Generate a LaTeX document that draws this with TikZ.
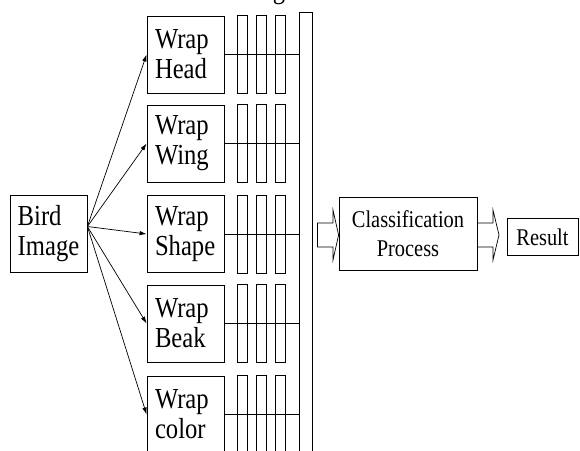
\documentclass[tikz,border=0pt]{standalone}
\usepackage{fontspec}
\setmainfont{Liberation Serif}[FakeStretch=0.85]
\usetikzlibrary{arrows.meta,calc}
\begin{document}
\begin{tikzpicture}[x=1pt,y=-1pt,
  box/.style={draw,line width=0.8pt,minimum width=77pt,minimum height=77pt,inner sep=0pt},
  wrapbox/.style={box,text width=61pt,align=left,font=\fontsize{29}{30}\selectfont},
  smallbox/.style={draw,line width=0.8pt,inner sep=0pt,align=center,font=\fontsize{24}{29}\selectfont},
  bar/.style={draw,line width=0.7pt},
  link/.style={line width=0.7pt},
  feed/.style={line width=0.7pt,-{Latex[length=7pt,width=4.5pt]}},
  hollow/.style={draw,line width=0.7pt,line join=miter}]
\useasboundingbox (0,0) rectangle (580,450);
\clip (0,0) rectangle (580,450);

% source image
\node[box,align=left,font=\fontsize{29}{30}\selectfont] (bird) at (48.5,233.5) {Bird\\Image};

% feature wrappers
\node[wrapbox] (head)  at (185.5,54.5)  {Wrap\\Head};
\node[wrapbox] (wing)  at (185.5,143.5) {Wrap\\Wing};
\node[wrapbox] (shape) at (185.5,234)   {Wrap\\Shape};
\node[wrapbox] (beak)  at (185.5,323.5) {Wrap\\Beak};
\node[wrapbox] (color) at (185.5,414.5) {Wrap\\color};

% collecting bus
\node[draw,line width=0.8pt,minimum width=13pt,minimum height=460pt,inner sep=0pt] (bus) at (305.5,242) {};

% label above the columns
\node[anchor=base,inner sep=0pt,font=\fontsize{29}{30}\selectfont] (toplabel) at (279,-2) {g};

% classifier and output
\node[smallbox,minimum width=138pt,minimum height=73pt] (class) at (408,233.5) {Classification\\Process};
\node[smallbox,minimum width=71pt,minimum height=37pt] (result) at (542.5,237) {Result};

% fan-out arrows
\foreach \t in {head,wing,shape,beak,color}
  \draw[feed] ([yshift=7pt]bird.east) -- (\t.west);

% feature columns and their links to the bus
\foreach \t in {head,wing,shape,beak,color}{
  \foreach \a/\b in {13/23,32/42,51/61}
    \draw[bar] ([xshift=\a pt]\t.north east) rectangle ([xshift=\b pt]\t.south east);
  \draw[link] (\t.east) -- (bus.west |- \t.east);
}

% hollow block arrows
\draw[hollow] ($(bus.east)+(5,0)$) coordinate (a1)
  (a1 |- 0,223) -- (333,223) -- (333,210) -- (class.west |- 0,235) -- (333,260) -- (333,247) -- (a1 |- 0,247) -- cycle;
\draw[hollow] (class.east |- 0,223) -- (493,223) -- (493,210) -- (499,235) -- (493,260) -- (493,247) -- (class.east |- 0,247);
\end{tikzpicture}
\end{document}
